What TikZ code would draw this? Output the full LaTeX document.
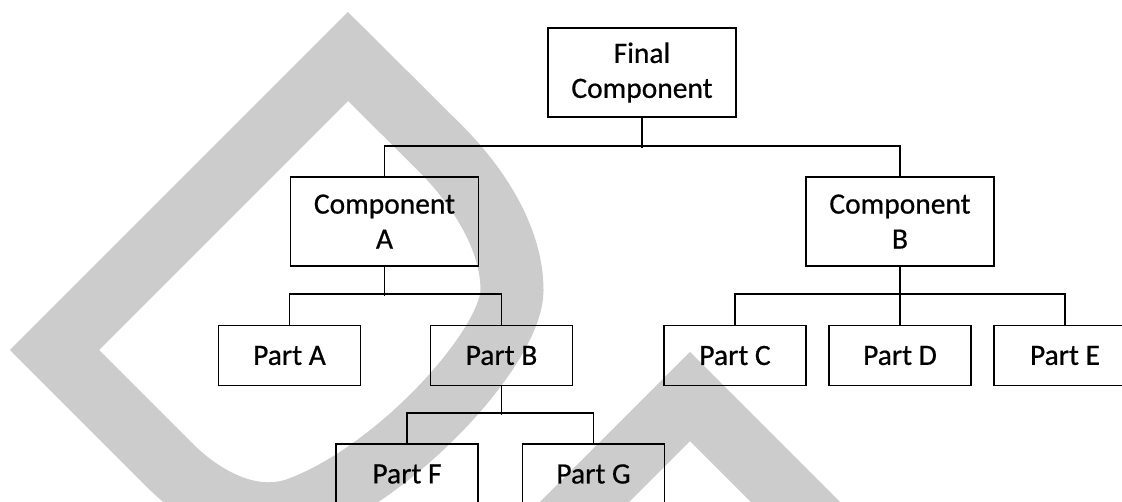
\documentclass[tikz,border=0pt]{standalone}
\usepackage{fontspec}
\setmainfont{Carlito}[FakeBold=0.6,AutoFakeBold=0.6]
\usepackage{xcolor}
\usepackage{tikz}
\usetikzlibrary{positioning}

\definecolor{wmgray}{RGB}{204,204,204}

\begin{document}
\begin{tikzpicture}[
  x=1pt, y=-1pt,
  font=\fontsize{29.5}{35}\selectfont\bfseries,
  comp/.style={
    rectangle, draw=black, line width=1.9pt,
    align=center, inner sep=0pt,
    minimum width=188pt, minimum height=89pt},
  part/.style={
    rectangle, draw=black, line width=1.9pt,
    align=center, inner sep=0pt,
    minimum width=142pt, minimum height=60pt},
  link/.style={draw=black, line width=1.9pt},
  wmark/.style={draw=wmgray, line width=63pt, miter limit=4}
]

\useasboundingbox (0,0) rectangle (1122,501);
\clip (0,0) rectangle (1122,501);

%% Grey watermark shapes
\draw[wmark] (54.5,350) -- (348,56.5) -- (440,148)
  .. controls (480,188) and (512,240) .. (512,290)
  .. controls (512,345) and (400,470) .. (300,508)
  .. controls (250,527) and (200,495.5) .. (170,465.5) -- cycle;
\draw[wmark] (540,546.5) -- (690,396.5) -- (840,546.5);

%% Tree nodes
\node[comp] (final) at (642,72.5)    {Final\\Component};
\node[comp] (compA) at (384.5,221.5) {Component\\A};
\node[comp] (compB) at (900,221.5)   {Component\\B};
\node[part] (partA) at (289.5,355.5) {Part A};
\node[part] (partB) at (501.5,355.5) {Part B};
\node[part] (partC) at (735,355.5)   {Part C};
\node[part] (partD) at (900,355.5)   {Part D};
\node[part] (partE) at (1065,355.5)  {Part E};
\node[part] (partF) at (407,474)     {Part F};
\node[part] (partG) at (593.5,474)   {Part G};

%% Connectors
\draw[link] (final.south) -- ++(0,30);
\draw[link] (compA.north) -- ++(0,-30) -| (compB.north);
\draw[link] (compA.south) -- ++(0,29);
\draw[link] (partA.north) -- ++(0,-31) -| (partB.north);
\draw[link] (compB.south) -- (partD.north);
\draw[link] (partC.north) -- ++(0,-31) -| (partE.north);
\draw[link] (partB.south) -- ++(0,29);
\draw[link] (partF.north) -- ++(0,-30) -| (partG.north);

\end{tikzpicture}
\end{document}
